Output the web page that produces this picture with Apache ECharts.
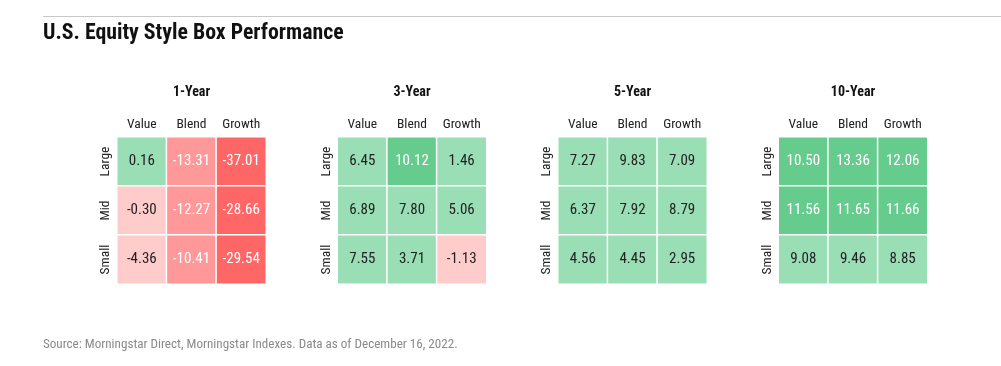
<!DOCTYPE html>
<html><head><meta charset="utf-8">
<script src="https://cdn.jsdelivr.net/npm/echarts@6/dist/echarts.min.js"></script>
<style>html,body{margin:0;padding:0;background:#fff}#c{width:1001px;height:366px}</style>
</head><body><div id="c"></div>
<script>
const periods = ['1-Year','3-Year','5-Year','10-Year'];
const styles = ['Value','Blend','Growth'];
const sizes = ['Large','Mid','Small'];
// rows: Large, Mid, Small; cols: Value, Blend, Growth
const oneYear = [[0.16,-13.31,-37.01],[-0.30,-12.27,-28.66],[-4.36,-10.41,-29.54]];
const threeYear = [[6.45,10.12,1.46],[6.89,7.80,5.06],[7.55,3.71,-1.13]];
const fiveYear = [[7.27,9.83,7.09],[6.37,7.92,8.79],[4.56,4.45,2.95]];
const tenYear = [[10.50,13.36,12.06],[11.56,11.65,11.66],[9.08,9.46,8.85]];
const allData = [oneYear, threeYear, fiveYear, tenYear];

const FONT = '"Liberation Sans Narrow","Roboto Condensed","DejaVu Sans Condensed",Roboto,sans-serif';
const chart = echarts.init(document.getElementById('c'), null, {renderer:'canvas'});
const grids=[], xAxes=[], yAxes=[], series=[], titles=[];
const L0 = 117, STEP = 220.5, W = 149, TOP = 137, H = 147;
titles.push({text:'U.S. Equity Style Box Performance', left:43, top:22.5, padding:0,
  textStyle:{fontFamily:FONT, fontSize:21.8, fontWeight:'bold', color:'#111'}});
titles.push({text:'Source: Morningstar Direct, Morningstar Indexes. Data as of December 16, 2022.', left:43, top:338.5, padding:0,
  textStyle:{fontFamily:FONT, fontSize:13.1, fontWeight:'normal', color:'#8a8a8a'}});
allData.forEach((tbl,i)=>{
  const left = L0 + i*STEP;
  grids.push({left:left, top:TOP, width:W, height:H});
  titles.push({text:periods[i], left:left+W/2, top:85.5, padding:0, textAlign:'center',
    textStyle:{fontFamily:FONT, fontSize:14, fontWeight:'bold', color:'#111'}});
  xAxes.push({type:'category', data:styles, gridIndex:i, position:'top',
    axisLine:{show:false}, axisTick:{show:false}, splitLine:{show:false},
    axisLabel:{fontFamily:FONT, fontSize:13.5, color:'#222', margin:5}});
  yAxes.push({type:'category', data:sizes, gridIndex:i, inverse:true,
    axisLine:{show:false}, axisTick:{show:false}, splitLine:{show:false},
    axisLabel:{fontFamily:FONT, fontSize:13.5, color:'#222', rotate:90, margin:4}});
  const data=[];
  tbl.forEach((row,r)=>row.forEach((v,c)=>{
    data.push({value:[c,r,v], label:{color: Math.abs(v)>=10 ? '#ffffff' : '#222'}});
  }));
  series.push({type:'heatmap', xAxisIndex:i, yAxisIndex:i, data:data,
    itemStyle:{borderColor:'#fff', borderWidth:1.5},
    label:{show:true, fontFamily:FONT, fontSize:15, formatter:p=>p.value[2].toFixed(2)},
    emphasis:{disabled:true}});
});
chart.setOption({
  animation:false,
  title:titles,
  grid:grids, xAxis:xAxes, yAxis:yAxes,
  visualMap:{type:'piecewise', show:false, dimension:2, seriesIndex:[0,1,2,3],
    pieces:[{gte:10,color:'#66cc8e'},{gte:0,lt:10,color:'#99deb4'},{gte:-10,lt:0,color:'#ffcccc'},
            {gte:-20,lt:-10,color:'#ff9999'},{lt:-20,color:'#ff6666'}]},
  graphic:[{type:'line', shape:{x1:43,y1:16.5,x2:1001,y2:16.5}, style:{stroke:'#c8c8c8', lineWidth:1}}],
  series:series
});
</script></body></html>
